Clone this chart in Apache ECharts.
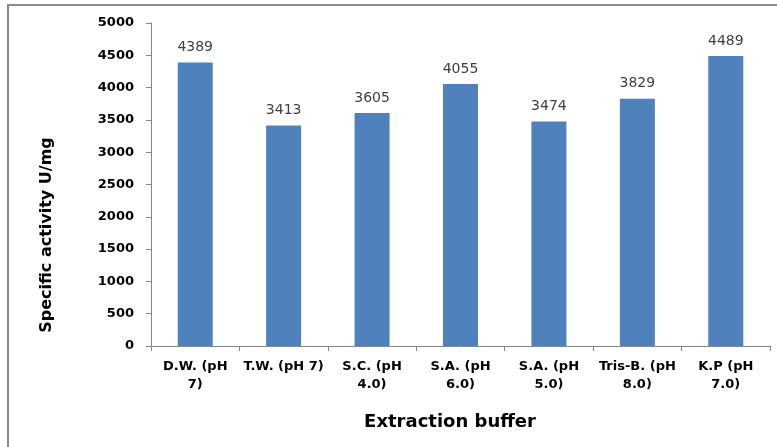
<!DOCTYPE html>
<html>
<head>
<meta charset="utf-8">
<script src="https://cdn.jsdelivr.net/npm/echarts@6/dist/echarts.min.js"></script>
<style>
html,body{margin:0;padding:0;background:#fff;}
#chart{width:777px;height:447px;}
</style>
</head>
<body>
<div id="chart"></div>
<script>
const categories = ['D.W. (pH\n7)', 'T.W. (pH 7)', 'S.C. (pH\n4.0)', 'S.A. (pH\n6.0)', 'S.A. (pH\n5.0)', 'Tris-B. (pH\n8.0)', 'K.P (pH\n7.0)'];
const activity = [4389, 3413, 3605, 4055, 3474, 3829, 4489];
const yMin = 0, yMax = 5000, yStep = 500;
const xTitle = 'Extraction buffer';
const yTitle = 'Specific activity U/mg';

const chart = echarts.init(document.getElementById('chart'));
const axisColor = '#868686';
const font = 'DejaVu Sans';
chart.setOption({
  animation: false,
  backgroundColor: '#fff',
  grid: {left: 151, top: 23, right: 7, bottom: 101, containLabel: false},
  graphic: [
    {type: 'rect', shape: {x: 8, y: 5, width: 900, height: 600}, style: {fill: 'none', stroke: '#8a8a8a', lineWidth: 2}, silent: true},
    {type: 'text', x: 450, y: 422, style: {text: xTitle, font: 'bold 18px "DejaVu Sans"', fill: '#000', align: 'center', verticalAlign: 'middle'}},
    {type: 'text', x: 47, y: 235, rotation: Math.PI / 2, style: {text: yTitle, font: 'bold 16px "DejaVu Sans"', fill: '#000', align: 'center', verticalAlign: 'middle'}}
  ],
  xAxis: {
    type: 'category',
    data: categories,
    boundaryGap: true,
    axisLine: {show: true, lineStyle: {color: axisColor, width: 1}},
    axisTick: {show: true, length: 5, alignWithLabel: false, lineStyle: {color: axisColor}},
    axisLabel: {interval: 0, color: '#000', fontFamily: font, fontWeight: 'bold', fontSize: 13, lineHeight: 18, margin: 12}
  },
  yAxis: {
    type: 'value',
    min: yMin, max: yMax, interval: yStep,
    axisLine: {show: true, lineStyle: {color: axisColor, width: 1}},
    axisTick: {show: true, length: 5, lineStyle: {color: axisColor}},
    splitLine: {show: false},
    axisLabel: {color: '#000', fontFamily: font, fontWeight: 'bold', fontSize: 13, margin: 17, formatter: v => String(v)}
  },
  series: [{
    type: 'bar',
    data: activity,
    barWidth: 35,
    itemStyle: {color: '#4F81BD'},
    label: {show: true, position: 'top', distance: 8, color: '#404040', fontFamily: font, fontSize: 14}
  }]
});
</script>
</body>
</html>
